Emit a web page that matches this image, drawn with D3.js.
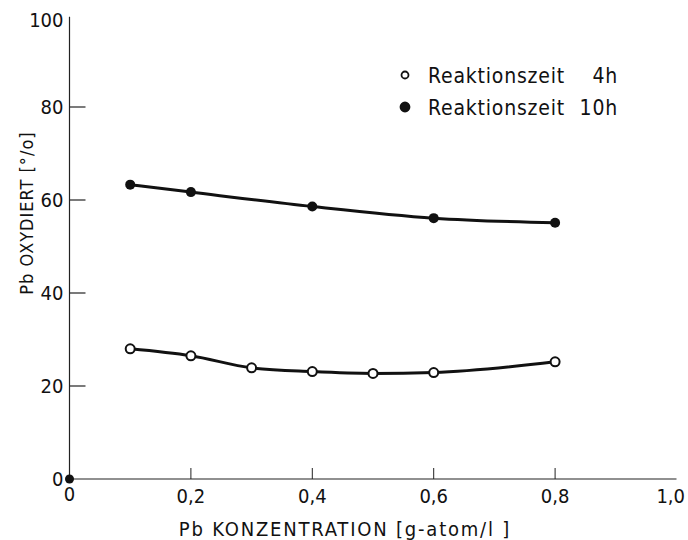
<!DOCTYPE html>
<html>
<head>
<meta charset="utf-8">
<script src="https://cdn.jsdelivr.net/npm/d3@7"></script>
<style>
  body { margin: 0; background: #fff; }
  text { font-family: "DejaVu Sans Condensed", "DejaVu Sans", sans-serif; fill: #111; }
</style>
</head>
<body>
<script>
// Pb concentration [g-atom/l]
var conc4h = [0.1, 0.2, 0.3, 0.4, 0.5, 0.6, 0.8];
var oxid4h = [28.0, 26.5, 23.9, 23.1, 22.7, 22.9, 25.2];

var conc10h = [0.1, 0.2, 0.4, 0.6, 0.8];
var oxid10h = [63.3, 61.7, 58.6, 56.1, 55.1];

var xTicks = [0.2, 0.4, 0.6, 0.8, 1.0];
var xTickLabels = ["0,2", "0,4", "0,6", "0,8", "1,0"];
var yTicks = [20, 40, 60, 80];
var yLabelVals = [20, 40, 60, 80, 100];

var legendLabels = ["Reaktionszeit", "Reaktionszeit"];
var legendTimes = ["4h", "10h"];

var width = 688,
    height = 540;

var svg = d3.select("body")
    .append("svg")
    .attr("width", width)
    .attr("height", height);

var x = d3.scaleLinear().domain([0, 1]).range([69.5, 676.5]);
var y = d3.scaleLinear().domain([0, 100]).range([479, 14]);

// axes lines
svg.append("line")
    .attr("x1", x(0)).attr("x2", x(0))
    .attr("y1", y(0)).attr("y2", y(99.4))
    .attr("stroke", "#222").attr("stroke-width", 1.2);
svg.append("line")
    .attr("x1", x(0)).attr("x2", x(1))
    .attr("y1", y(0)).attr("y2", y(0))
    .attr("stroke", "#222").attr("stroke-width", 1.2);

// y ticks point inward
svg.selectAll(".ytick")
    .data(yTicks)
    .enter()
    .append("line")
    .attr("x1", x(0)).attr("x2", x(0) + 16)
    .attr("y1", function(d) { return y(d); })
    .attr("y2", function(d) { return y(d); })
    .attr("stroke", "#222").attr("stroke-width", 1.2);

svg.selectAll(".ylab")
    .data(yLabelVals)
    .enter()
    .append("text")
    .attr("x", x(0) - 6)
    .attr("y", function(d) { return d == 100 ? y(d) + 6 : y(d); })
    .attr("dy", "0.36em")
    .attr("text-anchor", "end")
    .attr("font-size", 20)
    .text(function(d) { return d; });

// x ticks point up
svg.selectAll(".xtick")
    .data(xTicks.slice(0, 4))
    .enter()
    .append("line")
    .attr("x1", function(d) { return x(d); })
    .attr("x2", function(d) { return x(d); })
    .attr("y1", y(0)).attr("y2", y(0) - 11)
    .attr("stroke", "#222").attr("stroke-width", 1);

svg.selectAll(".xlab")
    .data(xTicks)
    .enter()
    .append("text")
    .attr("x", function(d) { return d == 1 ? width - 3 : x(d); })
    .attr("y", y(0) + 17)
    .attr("dy", "0.36em")
    .attr("text-anchor", function(d) { return d == 1 ? "end" : "middle"; })
    .attr("font-size", 20)
    .text(function(d, i) { return xTickLabels[i]; });

// the two zeros at the origin
svg.append("text")
    .attr("x", x(0) - 6).attr("y", y(0))
    .attr("dy", "0.36em")
    .attr("text-anchor", "end")
    .attr("font-size", 20)
    .text("0");
svg.append("text")
    .attr("x", x(0)).attr("y", y(0) + 15)
    .attr("dy", "0.36em")
    .attr("text-anchor", "middle")
    .attr("font-size", 20)
    .text("0");
svg.append("circle")
    .attr("cx", x(0)).attr("cy", y(0))
    .attr("r", 4.5)
    .attr("fill", "#111");

// axis titles
svg.append("text")
    .attr("x", 345).attr("y", 529)
    .attr("dy", "0.36em")
    .attr("text-anchor", "middle")
    .attr("font-size", 20)
    .attr("letter-spacing", 1.8)
    .text("Pb KONZENTRATION [g-atom/l ]");

svg.append("text")
    .attr("transform", "translate(27,213) rotate(-90)")
    .attr("dy", "0.36em")
    .attr("text-anchor", "middle")
    .attr("font-size", 18)
    .attr("letter-spacing", 1)
    .text("Pb OXYDIERT [°/o]");

// lines
var line = d3.line()
    .x(function(d) { return x(d[0]); })
    .y(function(d) { return y(d[1]); })
    .curve(d3.curveMonotoneX);

var data4h = conc4h.map(function(c, i) { return [c, oxid4h[i]]; });
var data10h = conc10h.map(function(c, i) { return [c, oxid10h[i]]; });

svg.append("path")
    .datum(data10h)
    .attr("d", line)
    .attr("fill", "none")
    .attr("stroke", "#111")
    .attr("stroke-width", 3);

svg.append("path")
    .datum(data4h)
    .attr("d", line)
    .attr("fill", "none")
    .attr("stroke", "#111")
    .attr("stroke-width", 3);

svg.selectAll(".p10")
    .data(data10h)
    .enter()
    .append("circle")
    .attr("cx", function(d) { return x(d[0]); })
    .attr("cy", function(d) { return y(d[1]); })
    .attr("r", 5)
    .attr("fill", "#111");

svg.selectAll(".p4")
    .data(data4h)
    .enter()
    .append("circle")
    .attr("cx", function(d) { return x(d[0]); })
    .attr("cy", function(d) { return y(d[1]); })
    .attr("r", 4.5)
    .attr("fill", "#fff")
    .attr("stroke", "#111")
    .attr("stroke-width", 2);

// legend
var legend = svg.append("g");
var rows = [75, 107];
legend.selectAll(".lm")
    .data(rows)
    .enter()
    .append("circle")
    .attr("cx", 405)
    .attr("cy", function(d) { return d; })
    .attr("r", function(d, i) { return i == 0 ? 3.5 : 4.5; })
    .attr("fill", function(d, i) { return i == 0 ? "#fff" : "#111"; })
    .attr("stroke", "#111")
    .attr("stroke-width", 1.8);

legend.selectAll(".lt")
    .data(rows)
    .enter()
    .append("text")
    .attr("x", 428)
    .attr("y", function(d) { return d; })
    .attr("dy", "0.36em")
    .attr("font-size", 21)
    .attr("letter-spacing", 0.8)
    .text(function(d, i) { return legendLabels[i]; });

legend.selectAll(".lh")
    .data(rows)
    .enter()
    .append("text")
    .attr("x", 618)
    .attr("y", function(d) { return d; })
    .attr("dy", "0.36em")
    .attr("text-anchor", "end")
    .attr("font-size", 21)
    .attr("letter-spacing", 0.8)
    .text(function(d, i) { return legendTimes[i]; });
</script>
</body>
</html>
